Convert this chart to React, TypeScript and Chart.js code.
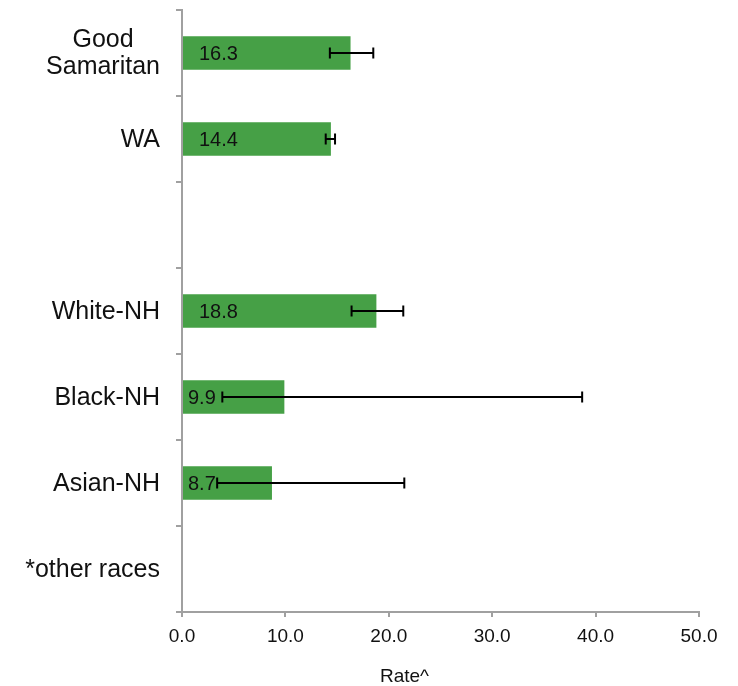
import React, { useEffect, useRef } from "react";
import { Chart, registerables } from "chart.js";

Chart.register(...registerables);

const categories: (string | string[])[] = [
  ["Good", "Samaritan"],
  "WA",
  "",
  "White-NH",
  "Black-NH",
  "Asian-NH",
  "*other races",
];
const rates: (number | null)[] = [16.3, 14.4, null, 18.8, 9.9, 8.7, null];
const lowerCI: (number | null)[] = [14.3, 13.9, null, 16.4, 3.9, 3.4, null];
const upperCI: (number | null)[] = [18.5, 14.8, null, 21.4, 38.7, 21.5, null];
const xTicks = [0, 10, 20, 30, 40, 50];
const axisTitle = "Rate^";

const FONT = '"Liberation Sans", Arial, Helvetica, sans-serif';
const BAR_COLOR = "#46a046";
const AXIS_COLOR = "#a0a0a0";

const overlayPlugin = {
  id: "overlay",
  afterDatasetsDraw(chart: any) {
    const ctx = chart.ctx;
    const xs = chart.scales.x;
    const ys = chart.scales.y;
    const meta = chart.getDatasetMeta(0);
    const base = xs.getPixelForValue(0);

    // category labels (multi-line labels centred within their own block)
    ctx.save();
    ctx.fillStyle = "#111";
    ctx.font = `25px ${FONT}`;
    ctx.textBaseline = "middle";
    ctx.textAlign = "center";
    const rightEdge = ys.right - 22;
    categories.forEach((lab, i) => {
      const lines = Array.isArray(lab) ? lab : [lab];
      const maxW = Math.max(...lines.map((l) => ctx.measureText(l).width));
      const cx = rightEdge - maxW / 2;
      const cy = ys.getPixelForValue(i) + 1;
      const lh = 27;
      lines.forEach((l, k) => {
        ctx.fillText(l, cx, cy + (k - (lines.length - 1) / 2) * lh);
      });
    });
    ctx.restore();

    meta.data.forEach((bar: any, i: number) => {
      const v = rates[i];
      if (v == null) return;
      const y = bar.y;
      ctx.save();
      ctx.fillStyle = "#111";
      ctx.font = `20px ${FONT}`;
      ctx.textBaseline = "middle";
      ctx.textAlign = "left";
      const txt = v.toFixed(1);
      ctx.fillText(txt, base + (txt.length > 3 ? 17 : 6), y + 1);
      const lo = lowerCI[i];
      const hi = upperCI[i];
      if (lo != null && hi != null) {
        const x1 = xs.getPixelForValue(lo);
        const x2 = xs.getPixelForValue(hi);
        ctx.strokeStyle = "#000";
        ctx.lineWidth = 2;
        ctx.beginPath();
        ctx.moveTo(x1, y);
        ctx.lineTo(x2, y);
        ctx.moveTo(x1, y - 5.5);
        ctx.lineTo(x1, y + 5.5);
        ctx.moveTo(x2, y - 5.5);
        ctx.lineTo(x2, y + 5.5);
        ctx.stroke();
      }
      ctx.restore();
    });
    ctx.save();
    ctx.fillStyle = "#111";
    ctx.font = `19px ${FONT}`;
    ctx.textAlign = "center";
    ctx.textBaseline = "alphabetic";
    ctx.fillText(axisTitle, (xs.left + xs.right) / 2 - 36, chart.height - 4);
    ctx.restore();
  },
};

export default function App() {
  const ref = useRef<HTMLCanvasElement | null>(null);
  useEffect(() => {
    if (!ref.current) return;
    const chart = new Chart(ref.current, {
      type: "bar",
      data: {
        labels: categories as any,
        datasets: [
          {
            data: rates as any,
            backgroundColor: BAR_COLOR,
            borderWidth: 0,
            barPercentage: 0.39,
            categoryPercentage: 1,
          },
        ],
      },
      options: {
        indexAxis: "y",
        animation: false,
        responsive: true,
        maintainAspectRatio: false,
        layout: { padding: { top: 10, right: 39, left: 0, bottom: 0 } },
        plugins: {
          legend: { display: false },
          tooltip: { enabled: false },
          title: { display: false },
        },
        scales: {
          x: {
            type: "linear",
            min: 0,
            max: 50,
            afterBuildTicks(scale: any) {
              scale.ticks = xTicks.map((v) => ({ value: v }));
            },
            afterFit(scale: any) {
              scale.height = 74;
            },
            ticks: {
              color: "#111",
              font: { family: FONT, size: 19 },
              padding: 8,
              callback: (v: any) => Number(v).toFixed(1),
            },
            grid: {
              drawOnChartArea: false,
              drawTicks: true,
              tickLength: 5,
              color: AXIS_COLOR,
              lineWidth: 2,
            },
            border: { display: true, color: AXIS_COLOR, width: 2 },
          },
          y: {
            type: "category",
            offset: true,
            afterFit(scale: any) {
              scale.width = 182;
              scale.paddingTop = 0;
              scale.paddingBottom = 0;
            },
            ticks: {
              color: "rgba(0,0,0,0)",
              font: { family: FONT, size: 25, lineHeight: 1.1 },
              padding: 16,
            },
            grid: {
              offset: true,
              drawOnChartArea: false,
              drawTicks: true,
              tickLength: 6,
              color: AXIS_COLOR,
              lineWidth: 2,
            },
            border: { display: true, color: AXIS_COLOR, width: 2 },
          },
        },
      },
      plugins: [overlayPlugin],
    });
    return () => chart.destroy();
  }, []);
  return (
    <div style={{ position: "absolute", left: 0, top: 0, width: 738, height: 686, background: "#fff" }}>
      <canvas ref={ref} />
    </div>
  );
}
